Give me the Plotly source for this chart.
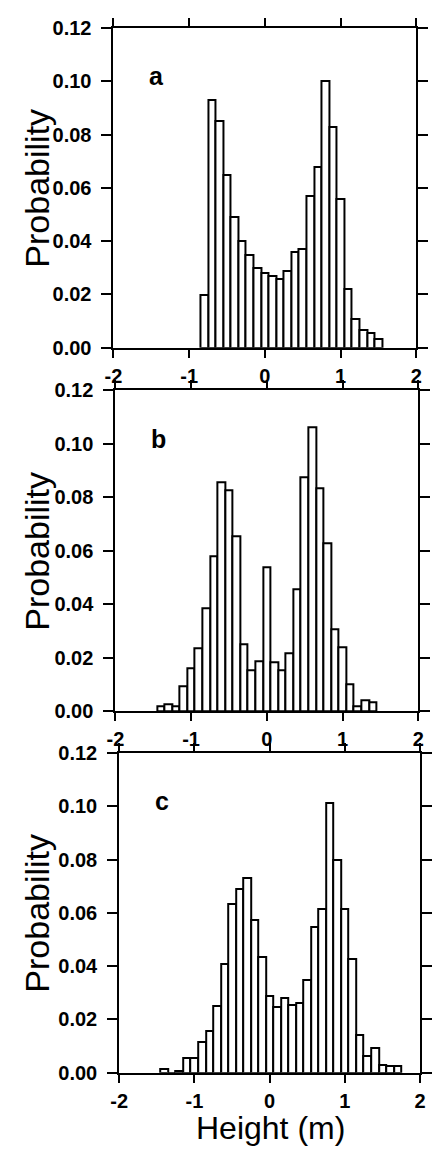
import plotly.graph_objects as go

# ---- data (bin centres in metres, probabilities) ----
centers_a = [-0.8, -0.7, -0.6, -0.5, -0.4, -0.3, -0.2, -0.1, 0.0, 0.1, 0.2, 0.3,
             0.4, 0.5, 0.6, 0.7, 0.8, 0.9, 1.0, 1.1, 1.2, 1.3, 1.4, 1.5]
heights_a = [0.020, 0.093, 0.085, 0.065, 0.049, 0.040, 0.035, 0.030, 0.028, 0.027,
             0.026, 0.029, 0.036, 0.037, 0.057, 0.068, 0.100, 0.083, 0.056, 0.022,
             0.011, 0.0067, 0.0057, 0.0033]

centers_b = [-1.4, -1.3, -1.2, -1.1, -1.0, -0.9, -0.8, -0.7, -0.6, -0.5, -0.4, -0.3,
             -0.2, -0.1, 0.0, 0.1, 0.2, 0.3, 0.4, 0.5, 0.6, 0.7, 0.8, 0.9, 1.0, 1.1,
             1.2, 1.3, 1.4]
heights_b = [0.002, 0.0025, 0.002, 0.0094, 0.016, 0.0234, 0.0384, 0.058, 0.0856,
             0.0826, 0.0655, 0.0252, 0.0153, 0.0189, 0.0537, 0.0185, 0.0153, 0.0216,
             0.0457, 0.0874, 0.1061, 0.0832, 0.063, 0.0305, 0.0238, 0.0102, 0.002,
             0.004, 0.0035]

centers_c = [-1.4, -1.3, -1.2, -1.1, -1.0, -0.9, -0.8, -0.7, -0.6, -0.5, -0.4, -0.3,
             -0.2, -0.1, 0.0, 0.1, 0.2, 0.3, 0.4, 0.5, 0.6, 0.7, 0.8, 0.9, 1.0, 1.1,
             1.2, 1.3, 1.4, 1.5, 1.6, 1.7]
heights_c = [0.0015, 0.0, 0.0005, 0.0057, 0.0057, 0.0116, 0.0156, 0.025, 0.0407,
             0.0632, 0.069, 0.0729, 0.0573, 0.0434, 0.0288, 0.0245, 0.0282, 0.0254,
             0.026, 0.0348, 0.0548, 0.0613, 0.1014, 0.0797, 0.0613, 0.0428, 0.014,
             0.0064, 0.0091, 0.003, 0.0024, 0.0025]

panel_labels = ["a", "b", "c"]
x_tick_vals = [-2, -1, 0, 1, 2]
x_tick_text = ["-2", "-1", "0", "1", "2"]
y_tick_vals = [0.0, 0.02, 0.04, 0.06, 0.08, 0.10, 0.12]
y_tick_text = ["0.00", "0.02", "0.04", "0.06", "0.08", "0.10", "0.12"]
y_title = "Probability"
x_title = "Height (m)"

W, H = 432, 1159
# panel geometry in pixels: (left, right, top, bottom)
geom = [(109, 425, 17.3, 343.3), (111, 427, 386.7, 714.0), (115, 429, 756.4, 1082.3)]

fig = go.Figure()
series = [(centers_a, heights_a), (centers_b, heights_b), (centers_c, heights_c)]
tickfont = dict(family="Liberation Sans", size=20, color="black", weight="bold")

for i, ((cx, hy), (l, r, t, b)) in enumerate(zip(series, geom)):
    sfx = "" if i == 0 else str(i + 1)
    fig.add_trace(go.Bar(
        x=cx, y=hy, width=0.1,
        marker=dict(color="white", line=dict(color="black", width=2)),
        xaxis="x" + sfx, yaxis="y" + sfx, showlegend=False, hoverinfo="x+y"))
    common = dict(showline=True, linecolor="black", linewidth=2, mirror="ticks",
                  ticks="outside", tickwidth=2, tickcolor="black",
                  showgrid=False, zeroline=False, tickfont=tickfont)
    fig.update_layout(**{
        "xaxis" + sfx: dict(domain=[l / W, r / W], anchor="y" + sfx, range=[-2, 2],
                            tickvals=x_tick_vals, ticktext=x_tick_text, ticklen=8,
                            ticklabelstandoff=1, **common),
        "yaxis" + sfx: dict(domain=[1 - b / H, 1 - t / H], anchor="x" + sfx,
                            range=[0, 0.12], tickvals=y_tick_vals, ticktext=y_tick_text,
                            ticklen=10, ticklabelstandoff=6, **common),
    })
    fig.add_annotation(x=-1.43, y=0.102, xref="x" + sfx, yref="y" + sfx,
                       text=panel_labels[i], showarrow=False,
                       font=dict(family="Liberation Sans", size=25, color="black",
                                 weight="bold"))
    fig.add_annotation(x=29 / W, y=1 - (t + b) / 2 / H, xref="paper", yref="paper",
                       text=y_title, textangle=-90, showarrow=False,
                       xanchor="center", yanchor="middle",
                       font=dict(family="Liberation Sans", size=34, color="black"))

fig.add_annotation(x=273 / W, y=1 - 1158 / H, xref="paper", yref="paper",
                   text=x_title, showarrow=False, xanchor="center", yanchor="bottom",
                   borderpad=0,
                   font=dict(family="Liberation Sans", size=32, color="black"))

fig.update_layout(width=W, height=H, margin=dict(l=0, r=0, t=0, b=0),
                  paper_bgcolor="white", plot_bgcolor="white", bargap=0,
                  showlegend=False)

fig.write_html("out.html")
